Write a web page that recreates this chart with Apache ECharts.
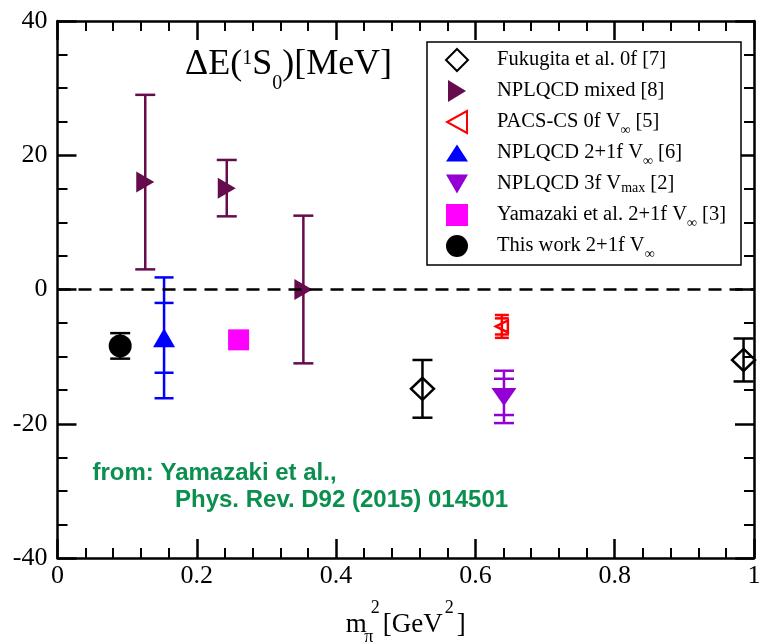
<!DOCTYPE html>
<html><head><meta charset="utf-8">
<script src="https://cdn.jsdelivr.net/npm/echarts@6/dist/echarts.min.js"></script>
<style>html,body{margin:0;padding:0;background:#fff}#c{width:759px;height:644px}</style>
</head><body><div id="c"></div>
<script>
// ---- axis ticks ----
const xTicks = [0, 0.2, 0.4, 0.6, 0.8, 1];
const yTicks = [-40, -20, 0, 20, 40];

// ---- data (x = m_pi^2 [GeV^2], y = Delta E [MeV], errors) ----
const fukugitaX = [0.524, 0.985];
const fukugitaY = [-14.8, -10.5];
const fukugitaErr = [4.3, 3.2];

const mixedX = [0.126, 0.243, 0.353];
const mixedY = [16.0, 15.1, 0.0];
const mixedErr = [13.0, 4.2, 11.0];

const pacsX = [0.638];
const pacsY = [-5.5];
const pacsStat = [1.2];
const pacsTot = [1.7];

const npl21X = [0.153];
const npl21Y = [-7.2];
const npl21Stat = [5.2];
const npl21Tot = [9.0];

const npl3fX = [0.641];
const npl3fY = [-16.0];
const npl3fStat = [2.7];
const npl3fTot = [3.9];

const yamaX = [0.260];
const yamaY = [-7.5];
const yamaErr = [0.6];

const thisX = [0.090];
const thisY = [-8.4];
const thisErr = [1.9];

const seriesNames = [
  'Fukugita et al. 0f [7]',
  'NPLQCD mixed [8]',
  'PACS-CS 0f V∞ [5]',
  'NPLQCD 2+1f V∞ [6]',
  'NPLQCD 3f Vmax [2]',
  'Yamazaki et al. 2+1f V∞ [3]',
  'This work 2+1f V∞'
];
const legendRich = {
  'Fukugita et al. 0f [7]': '{z|}{a|Fukugita et al. 0f [7]}{i| }',
  'NPLQCD mixed [8]': '{z|}{a|NPLQCD mixed [8]}{i| }',
  'PACS-CS 0f V∞ [5]': '{z|}{a|PACS-CS 0f V}{i|∞}{a| [5]}',
  'NPLQCD 2+1f V∞ [6]': '{z|}{a|NPLQCD 2+1f V}{i|∞}{a| [6]}',
  'NPLQCD 3f Vmax [2]': '{z|}{a|NPLQCD 3f V}{x|max}{a| [2]}{i| }',
  'Yamazaki et al. 2+1f V∞ [3]': '{z|}{a|Yamazaki et al. 2+1f V}{i|∞}{a| [3]}',
  'This work 2+1f V∞': '{z|}{a|This work 2+1f V}{i|∞}'
};
const legendIcons = [
  'diamond',
  'path://M0,0 L18,11 L0,22 Z',
  'path://M20,0 L0,11 L20,22 Z',
  'path://M11,0 L22,17 L0,17 Z',
  'path://M0,0 L23,0 L11.5,20 Z',
  'rect',
  'circle'
];

const SERIF = 'Liberation Serif';
const zip = (xs, ys) => xs.map((x, i) => [x, ys[i]]);

function errSeries(color, xs, ys, inner, outer, capW, lw) {
  const data = xs.map((x, i) => [x, ys[i], inner[i], outer[i]]);
  return {
    type: 'custom', data, z: 2, silent: true, encode: { x: 0, y: 1 },
    renderItem(params, api) {
      const x = api.value(0), y = api.value(1), e1 = api.value(2), e2 = api.value(3);
      const pt = v => api.coord([x, v]);
      const top = pt(y + e2), bot = pt(y - e2);
      const st = { stroke: color, lineWidth: lw };
      const ch = [{ type: 'line', shape: { x1: top[0], y1: top[1], x2: bot[0], y2: bot[1] }, style: st }];
      const levels = e1 !== e2 ? [e1, e2] : [e2];
      levels.forEach(e => [y + e, y - e].forEach(v => {
        const p = pt(v);
        ch.push({ type: 'line', shape: { x1: p[0] - capW / 2, y1: p[1], x2: p[0] + capW / 2, y2: p[1] }, style: st });
      }));
      return { type: 'group', children: ch };
    }
  };
}

const cMixed = '#660b4c', cViolet = '#9400d3';

const axisCommon = {
  type: 'value',
  axisLine: { onZero: false, lineStyle: { color: '#000', width: 2.5 } },
  axisTick: { inside: true, length: 19, lineStyle: { color: '#000', width: 2.5 } },
  minorTick: { show: true, length: 10, lineStyle: { color: '#000', width: 2 } },
  splitLine: { show: false },
  minorSplitLine: { show: false }
};

const option = {
  animation: false,
  backgroundColor: '#fff',
  grid: { left: 57.5, right: 5, top: 21, bottom: 86, outerBoundsMode: 'none', containLabel: false },
  xAxis: [
    Object.assign({}, axisCommon, {
      position: 'bottom', min: xTicks[0], max: xTicks[xTicks.length - 1], interval: xTicks[1] - xTicks[0],
      minorTick: Object.assign({}, axisCommon.minorTick, { splitNumber: 5 }),
      axisLabel: { fontFamily: SERIF, fontSize: 26, color: '#000', margin: 5 },
      name: '{m|m}{s|π}{p|2}{m|[GeV}{p|2}{m|]}',
      nameLocation: 'middle', nameGap: 39,
      nameTextStyle: {
        fontFamily: SERIF, fontSize: 27, color: '#000',
        rich: {
          m: { fontFamily: SERIF, fontSize: 27, lineHeight: 56, color: '#000' },
          s: { fontFamily: SERIF, fontSize: 18, lineHeight: 56, width: 0, color: '#000', padding: [24, 0, 0, 2] },
          p: { fontFamily: SERIF, fontSize: 18, lineHeight: 56, color: '#000', padding: [0, 3, 33, 2] }
        }
      }
    }),
    Object.assign({}, axisCommon, {
      position: 'top', min: xTicks[0], max: xTicks[xTicks.length - 1], interval: xTicks[1] - xTicks[0],
      minorTick: Object.assign({}, axisCommon.minorTick, { splitNumber: 5 }),
      axisLabel: { show: false }
    })
  ],
  yAxis: [
    Object.assign({}, axisCommon, {
      position: 'left', min: yTicks[0], max: yTicks[yTicks.length - 1], interval: yTicks[1] - yTicks[0],
      minorTick: Object.assign({}, axisCommon.minorTick, { splitNumber: 4 }),
      axisLabel: { fontFamily: SERIF, fontSize: 26, color: '#000', margin: 10 }
    }),
    Object.assign({}, axisCommon, {
      position: 'right', min: yTicks[0], max: yTicks[yTicks.length - 1], interval: yTicks[1] - yTicks[0],
      minorTick: Object.assign({}, axisCommon.minorTick, { splitNumber: 4 }),
      axisLabel: { show: false }
    })
  ],
  legend: {
    orient: 'vertical', left: 445, top: 45, padding: 0,
    itemWidth: 22, itemHeight: 22, itemGap: 1, selectedMode: false,
    data: seriesNames.map((n, i) => ({ name: n, icon: legendIcons[i] })),
    formatter: n => legendRich[n],
    textStyle: {
      fontFamily: SERIF, fontSize: 20.5, color: '#000',
      rich: {
        z: { width: 24, lineHeight: 34, fontSize: 20.5, fontFamily: SERIF },
        a: { fontFamily: SERIF, fontSize: 20.5, lineHeight: 34, color: '#000' },
        i: { fontFamily: SERIF, fontSize: 14, lineHeight: 34, color: '#000', padding: [16, 0, 0, 0] },
        x: { fontFamily: SERIF, fontSize: 14, lineHeight: 34, color: '#000', padding: [8, 0, 0, 0] }
      }
    }
  },
  graphic: [
    { type: 'rect', z: 1, shape: { x: 427, y: 42, width: 314, height: 223 }, style: { fill: '#fff', stroke: '#000', lineWidth: 1.5 } },
    { type: 'text', z: 10, x: 185, y: 33, style: {
        text: '{a|ΔE(}{p|1}{a|S}{b|0}{a|)[MeV]}', verticalAlign: 'top',
        rich: {
          a: { fontFamily: SERIF, fontSize: 36, lineHeight: 64, fill: '#000' },
          p: { fontFamily: SERIF, fontSize: 20, lineHeight: 64, fill: '#000', padding: [0, 0, 12.5, 0] },
          b: { fontFamily: SERIF, fontSize: 20, lineHeight: 64, fill: '#000', padding: [37.5, 0, 0, 0] }
        }
    } },
    { type: 'text', z: 10, x: 92.5, y: 473.7, style: { text: 'from: Yamazaki et al.,', fontFamily: 'Liberation Sans', fontWeight: 'bold', fontSize: 24, fill: '#0b8f4f', verticalAlign: 'middle' } },
    { type: 'text', z: 10, x: 175, y: 500, style: { text: 'Phys. Rev. D92 (2015) 014501', fontFamily: 'Liberation Sans', fontWeight: 'bold', fontSize: 24, fill: '#0b8f4f', verticalAlign: 'middle' } }
  ],
  series: [
    errSeries('#000', fukugitaX, fukugitaY, fukugitaErr, fukugitaErr, 20, 2.5),
    errSeries(cMixed, mixedX, mixedY, mixedErr, mixedErr, 20, 2.5),
    errSeries('#ff0000', pacsX, pacsY, pacsStat, pacsTot, 14, 2.5),
    errSeries('#0000ff', npl21X, npl21Y, npl21Stat, npl21Tot, 19, 2.5),
    errSeries(cViolet, npl3fX, npl3fY, npl3fStat, npl3fTot, 20, 2.5),
    errSeries('#ff00ff', yamaX, yamaY, yamaErr, yamaErr, 20, 2.5),
    errSeries('#000', thisX, thisY, thisErr, thisErr, 20, 2.5),
    { type: 'scatter', name: seriesNames[0], z: 3, data: zip(fukugitaX, fukugitaY), symbol: 'diamond', symbolSize: [23, 22],
      itemStyle: { color: 'rgba(255,255,255,0)', borderColor: '#000', borderWidth: 2.5, opacity: 1 },
      markLine: { silent: true, symbol: 'none', label: { show: false }, lineStyle: { color: '#000', type: [13, 8], width: 2.5 }, data: [{ yAxis: 0 }] } },
    { type: 'scatter', name: seriesNames[1], z: 3, data: zip(mixedX, mixedY), symbol: 'triangle', symbolRotate: -90, symbolSize: [21, 18],
      itemStyle: { color: cMixed, opacity: 1 } },
    { type: 'scatter', name: seriesNames[2], z: 3, data: zip(pacsX, pacsY), symbol: 'triangle', symbolRotate: 90, symbolSize: [12, 12],
      itemStyle: { color: 'rgba(255,255,255,0)', borderColor: '#ff0000', borderWidth: 2.5, opacity: 1 } },
    { type: 'scatter', name: seriesNames[3], z: 3, data: zip(npl21X, npl21Y), symbol: 'triangle', symbolSize: [22, 19],
      itemStyle: { color: '#0000ff', opacity: 1 } },
    { type: 'scatter', name: seriesNames[4], z: 3, data: zip(npl3fX, npl3fY), symbol: 'triangle', symbolRotate: 180, symbolSize: [25, 18],
      itemStyle: { color: cViolet, opacity: 1 } },
    { type: 'scatter', name: seriesNames[5], z: 3, data: zip(yamaX, yamaY), symbol: 'rect', symbolSize: 21,
      itemStyle: { color: '#ff00ff', opacity: 1 } },
    { type: 'scatter', name: seriesNames[6], z: 3, data: zip(thisX, thisY), symbol: 'circle', symbolSize: 23,
      itemStyle: { color: '#000', opacity: 1 } }
  ]
};

const chart = echarts.init(document.getElementById('c'), null, { renderer: 'canvas' });
chart.setOption(option);
</script>
</body></html>
